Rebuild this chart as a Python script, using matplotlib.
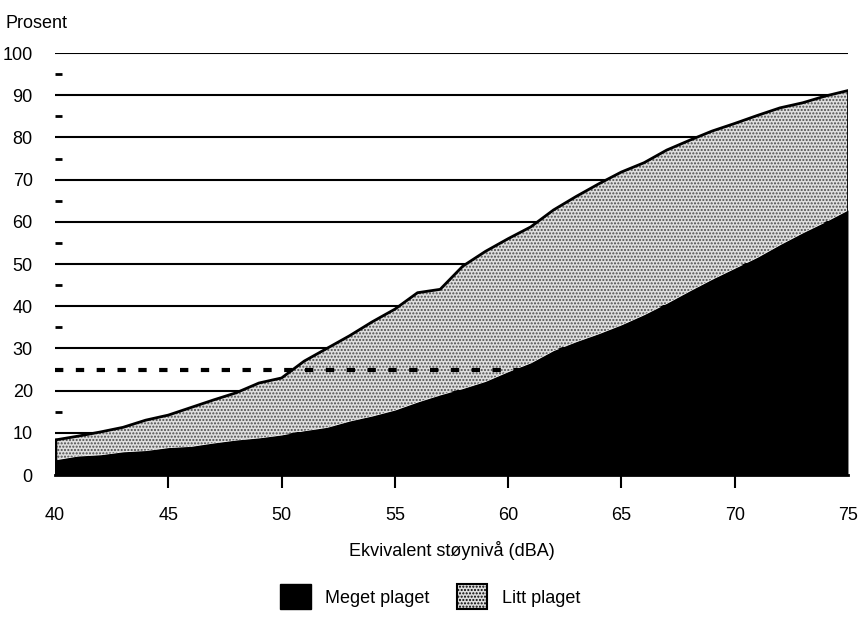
import numpy as np
import matplotlib
matplotlib.use('Agg')
import matplotlib.pyplot as plt
from matplotlib.patches import Patch

plt.rcParams['font.family'] = ['Liberation Sans', 'DejaVu Sans']
plt.rcParams['hatch.linewidth'] = 1.0

# noise level (dBA)
niva = np.arange(40, 76)

# share strongly annoyed (percent)
meget = [3.6, 4.5, 4.8, 5.5, 5.8, 6.5, 6.8, 7.6, 8.3, 8.8, 9.5,
         10.5, 11.3, 12.8, 14.0, 15.4, 17.3, 19.0, 20.5, 22.2, 24.5,
         26.6, 29.5, 31.6, 33.5, 35.6, 38.0, 40.7, 43.6, 46.4, 49.0,
         51.6, 54.6, 57.4, 60.0, 62.8]

# share annoyed in total (percent)
totalt = [8.3, 9.2, 10.2, 11.3, 13.0, 14.2, 16.0, 17.8, 19.5, 21.8, 23.0,
          27.0, 30.0, 33.0, 36.3, 39.3, 43.2, 44.0, 49.5, 53.0, 56.0,
          58.8, 62.8, 66.0, 69.0, 71.8, 74.0, 77.0, 79.3, 81.5, 83.3,
          85.2, 87.0, 88.2, 89.8, 91.1]

grense = 25

fig = plt.figure(figsize=(8.6, 6.17), dpi=100)
ax = fig.add_axes([0.064, 0.2301, 0.922, 0.684])

for y in range(10, 101, 10):
    ax.axhline(y, color='black', lw=1.5, zorder=1)

ax.fill_between(niva, 0, meget, color='black', lw=0, zorder=2)
ax.fill_between(niva, meget, totalt, facecolor='#dedede', edgecolor='#4a4a4a',
                hatch='.....', lw=0, zorder=2)
ax.plot(niva, totalt, color='black', lw=2, zorder=3)
ax.plot([niva[0], niva[0]], [0, totalt[0]], color='black', lw=2.5, zorder=3)
ax.plot([niva[-1], niva[-1]], [0, totalt[-1]], color='black', lw=2, zorder=3)

# dashed 25 % line until it meets the black area
ax.plot([40, 61.4], [grense, grense], color='black', lw=3,
        dashes=(2, 3), zorder=4)

ax.set_xlim(40, 75)
ax.set_ylim(0, 100)
ax.set_xticks(range(40, 76, 5))
ax.set_yticks(range(0, 101, 10))
ax.set_yticks(range(5, 100, 10), minor=True)
ax.tick_params(axis='x', direction='out', length=9, width=1.5, pad=14, labelsize=13)
ax.tick_params(axis='y', which='major', length=0, pad=16, labelsize=13)
ax.tick_params(axis='y', which='minor', direction='in', length=5, width=2)
ax.xaxis.get_major_ticks()[0].tick1line.set_visible(False)
ax.xaxis.get_major_ticks()[-1].tick1line.set_visible(False)

for side in ['top', 'right', 'left']:
    ax.spines[side].set_visible(False)
ax.spines['bottom'].set_linewidth(2)

ax.set_xlabel('Ekvivalent støynivå (dBA)', fontsize=13, labelpad=12)
fig.text(0.006, 0.962, 'Prosent', fontsize=13, va='center')

handles = [Patch(facecolor='black', edgecolor='black', label='Meget plaget'),
           Patch(facecolor='#dedede', edgecolor='black', hatch='.....',
                 lw=1.5, label='Litt plaget')]
fig.legend(handles=handles, loc='center', bbox_to_anchor=(0.5, 0.033), ncol=2,
           frameon=False, fontsize=13, handlelength=1.7, handleheight=1.7,
           handletextpad=0.8, columnspacing=1.5)

fig.savefig('out.png', dpi=100)
